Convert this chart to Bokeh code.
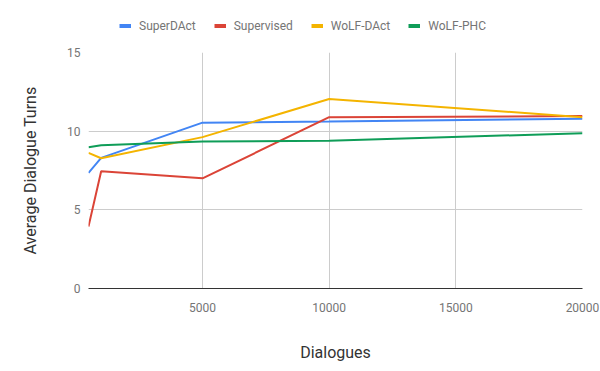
from bokeh.plotting import figure
from bokeh.models import Range1d, FixedTicker, Legend, LegendItem
from bokeh.layouts import column
from bokeh.embed import file_html
from bokeh.resources import INLINE

dialogues = [500, 1000, 5000, 10000, 20000]
superdact = [7.35, 8.30, 10.54, 10.62, 10.79]
supervised = [3.94, 7.45, 7.00, 10.89, 10.96]
wolf_dact = [8.62, 8.28, 9.62, 12.04, 10.89]
wolf_phc = [8.98, 9.11, 9.34, 9.39, 9.87]

series = [
    ("SuperDAct", superdact, "#4285F4"),
    ("Supervised", supervised, "#DB4437"),
    ("WoLF-DAct", wolf_dact, "#F4B400"),
    ("WoLF-PHC", wolf_phc, "#0F9D58"),
]

FONT = "Roboto"

# legend strip
lg = figure(width=600, height=40, output_backend="svg", toolbar_location=None,
            x_range=Range1d(0, 1), y_range=Range1d(0, 1),
            min_border_left=0, min_border_right=0, min_border_top=0, min_border_bottom=0)
lg.axis.visible = False
lg.grid.visible = False
lg.outline_line_color = None

p = figure(width=600, height=331, output_backend="svg", toolbar_location=None,
           x_range=Range1d(500, 20000), y_range=Range1d(0, 15),
           min_border_left=88, min_border_right=18, min_border_top=12, min_border_bottom=83)
p.outline_line_color = None

items = []
for name, vals, color in series:
    p.line(dialogues, vals, line_color=color, line_width=2)
    r = lg.line([-2, -1], [-2, -1], line_color=color, line_width=5)
    items.append(LegendItem(label=name, renderers=[r]))

p.xaxis.ticker = FixedTicker(ticks=[5000, 10000, 15000, 20000])
p.yaxis.ticker = FixedTicker(ticks=[0, 5, 10, 15])
p.xgrid.grid_line_color = "#cccccc"
p.ygrid.grid_line_color = "#cccccc"

for ax in (p.xaxis, p.yaxis):
    ax.major_tick_line_color = None
    ax.minor_tick_line_color = None
    ax.major_label_text_font = FONT
    ax.major_label_text_font_size = "12px"
    ax.major_label_text_color = "#757575"
    ax.axis_label_text_font = FONT
    ax.axis_label_text_font_size = "16px"
    ax.axis_label_text_font_style = "normal"
    ax.axis_label_text_color = "#333333"

p.xaxis.axis_line_color = "#333333"
p.yaxis.axis_line_color = None
p.xaxis.axis_label = "Dialogues"
p.yaxis.axis_label = "Average Dialogue Turns"
p.xaxis.major_label_standoff = 8
p.yaxis.major_label_standoff = 2
p.xaxis.axis_label_standoff = 28
p.yaxis.axis_label_standoff = 24

legend = Legend(items=items, orientation="horizontal", location=(31, 7),
                label_text_font=FONT, label_text_font_size="12px", label_text_color="#757575",
                glyph_width=12, glyph_height=4, spacing=18, label_standoff=8,
                border_line_color=None, background_fill_alpha=0, padding=0, margin=0)
lg.add_layout(legend, "center")

layout = column(lg, p, spacing=0)
open("out.html", "w").write(file_html(layout, INLINE))
